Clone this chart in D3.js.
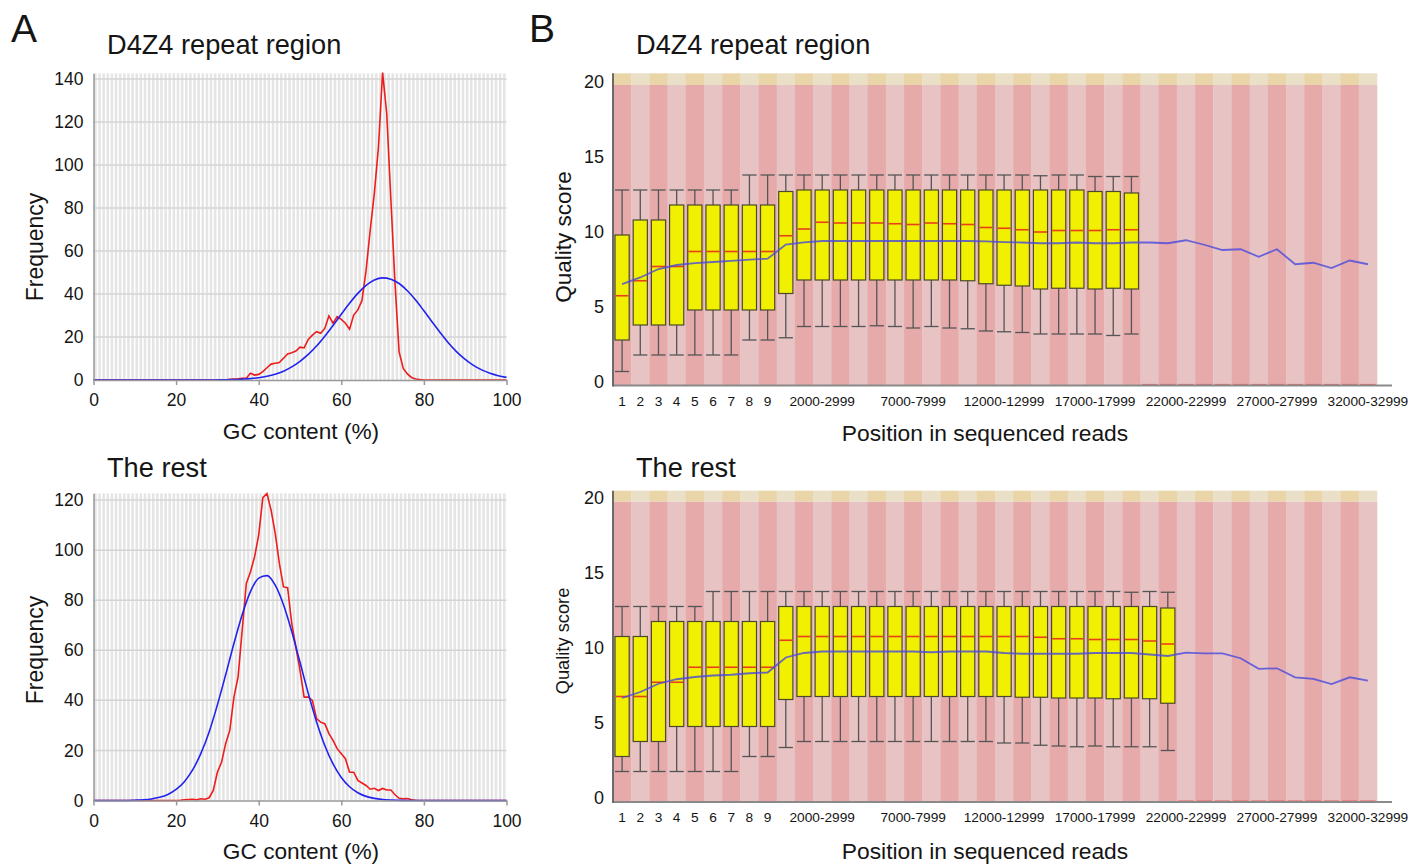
<!DOCTYPE html>
<html lang="en">
<head>
<meta charset="utf-8">
<title>GC content and per-position quality</title>
<script src="https://cdn.jsdelivr.net/npm/d3@7"></script>
<style>
  body { margin: 0; background: #fff; }
  svg text { font-family: "Liberation Sans", Arial, sans-serif; fill: #151515; }
</style>
</head>
<body>
<svg id="fig" width="1424" height="864"></svg>
<script>
// ---- data ----

// GC content per read, index = GC %
var redTop = [0,0,0,0,0,0,0,0,0,0, 0,0,0,0,0,0,0,0,0,0, 0,0,0,0,0,0,0,0,0,0, 0,0,0,
  0.3,0.5,0.6,0.8,0.8,3.1,2.3,2.6,3.9,5.7,7.4,7.8,8.1,10.1,12.1,12.7,13.5,15.3,15,
  18.9,20.9,22.5,21.7,24,29.8,26.4,29.5,28.2,26.4,23.6,30.2,32.6,36.9,51,69.8,86.8,
  108.5,143,124,84,45,13,5.4,2.8,1.2,0.5,0.2,
  0,0,0,0,0,0,0,0,0,0, 0,0,0,0,0,0,0,0,0,0, 0];
var redBottom = [0,0,0,0,0,0,0,0,0,0, 0,0,0,0,0,0,0,0,0,0, 0,
  0.1,0.3,0.4,0.5,0.3,0.7,0.5,1.1,4,11.3,15.3,22.7,28,41.3,49.3,68,86.7,91.3,97.3,
  106,121,122.6,116,106.7,94.7,85.3,85,70.7,61.3,52,41.3,41.3,40,32.7,31.3,30.7,26.7,
  24,20.7,18.7,16.7,11.3,11.3,8,7,6,4.5,4.9,4,4.8,4.2,4.2,2.3,0.9,0.7,0.8,0.3,0.1,
  0,0,0,0,0,0,0,0,0,0, 0,0,0,0,0,0,0,0,0,0, 0,0];

// theoretical distribution, read every 2 %
var blueGc = [0,2,4,6,8,10,12,14,16,18,20,22,24,26,28,30,32,34,36,38,40,42,44,46,48,50,
  52,54,56,58,60,62,64,66,68,70,72,74,76,78,80,82,84,86,88,90,92,94,96,98,100];
var blueTop = [0,0,0,0,0,0,0,0,0,0,0,0,0,0,0, 0.06,0.1,0.2,0.4,0.64,1.07,1.73,2.7,4.1,6.1,
  8.7,11.9,15.8,20.4,25.4,30.6,35.7,40.3,44,46.5,47.5,46.9,44.9,41.5,37.2,32.2,27,21.9,
  17.1,13,9.6,6.8,4.7,3.1,2.0,1.2];
var blueBottom = [0,0,0,0,0, 0.13,0.3,0.63,1.27,2.4,4.4,7.5,12.2,18.8,27.4,38.2,50.2,62.7,
  74.2,83.4,88.8,89.8,86,78.2,67.5,55.2,42.8,31.5,22,14.6,9.2,5.5,3.1,1.65,0.84,0.4,0.19,
  0.08, 0,0,0,0,0,0,0,0,0,0,0,0,0];

var gcTicks = [0, 20, 40, 60, 80, 100];
var freqTicksTop = [0, 20, 40, 60, 80, 100, 120, 140];
var freqTicksBottom = [0, 20, 40, 60, 80, 100, 120];

// positions in the reads
var positions = ["1","2","3","4","5","6","7","8","9","10-999","1000-1999","2000-2999",
  "3000-3999","4000-4999","5000-5999","6000-6999","7000-7999","8000-8999","9000-9999",
  "10000-10999","11000-11999","12000-12999","13000-13999","14000-14999","15000-15999",
  "16000-16999","17000-17999","18000-18999","19000-19999","20000-20999","21000-21999",
  "22000-22999","23000-23999","24000-24999","25000-25999","26000-26999","27000-27999",
  "28000-28999","29000-29999","30000-30999","31000-31999","32000-32999"];
var posTicks = ["1","2","3","4","5","6","7","8","9","2000-2999","7000-7999","12000-12999",
  "17000-17999","22000-22999","27000-27999","32000-32999"];
var qualTicks = [0, 5, 10, 15, 20];

// D4Z4 repeat region
var hiTop  = [13,13,13,13,13,13,13,14,14,14,14,14,14,14,14,14,14,14,14,14,14,14,14,13.95,14,14,13.9,13.9,13.9];
var q3Top  = [10,11,11,12,12,12,12,12,12,12.9,13,13,13,13,13,13,13,13,13,13,13,13,13,13,13,13,12.9,12.9,12.8];
var medTop = [5.95,6.95,7.9,7.9,8.9,8.9,8.9,8.9,8.9,9.95,10.4,10.85,10.8,10.8,10.8,10.75,10.7,10.8,10.75,10.7,10.5,10.45,10.35,10.2,10.3,10.3,10.3,10.35,10.35];
var q1Top  = [3,4,4,4,5,5,5,5,5,6.1,7,7,7,7,7,7,7,7,7,6.95,6.75,6.65,6.6,6.4,6.45,6.45,6.4,6.45,6.4];
var loTop  = [0.9,2,2,2,2,2,2,3,3,3.15,3.9,3.9,3.9,3.9,3.95,3.9,3.8,3.9,3.8,3.75,3.6,3.55,3.5,3.4,3.4,3.4,3.4,3.3,3.4];
var meanTop = [6.73,7.17,7.73,8.0,8.13,8.2,8.27,8.36,8.42,9.36,9.51,9.6,9.6,9.6,9.6,9.6,9.6,9.6,9.6,9.6,
  9.58,9.53,9.5,9.45,9.45,9.5,9.45,9.45,9.5,9.5,9.45,9.65,9.35,9.0,9.05,8.55,9.05,8.05,8.15,7.8,8.3,8.05];

// the rest
var hiBottom  = [13,13,13,13,13,14,14,14,14,14,14,14,14,14,14,14,14,14,14,14,14,14,14,14,14,14,14,14,13.95,14,13.95];
var q3Bottom  = [11,11,12,12,12,12,12,12,12,13,13,13,13,13,13,13,13,13,13,13,13,13,13,13,13,13,13,13,13,13,12.9];
var medBottom = [7,7,7.95,7.95,8.95,8.95,8.95,8.95,8.95,10.75,11,11,11,11,11,11,11,11,11,11,11,11,11,10.95,10.85,10.85,10.8,10.8,10.8,10.7,10.5];
var q1Bottom  = [3,4,4,5,5,5,5,5,5,6.8,7,7,7,7,7,7,7,7,7,7,7,7,6.95,6.95,6.9,6.9,6.9,6.85,6.9,6.85,6.55];
var loBottom  = [2,2,2,2,2,2,2,3,3,3.6,4,4,4,4,4,4,4,4,4,4,4,3.9,3.9,3.75,3.7,3.65,3.7,3.65,3.65,3.65,3.4];
var meanBottom = [6.9,7.3,7.85,8.15,8.3,8.4,8.45,8.55,8.6,9.6,9.9,10,10,10,10,10,10,9.95,10,10,10,9.9,
  9.85,9.85,9.85,9.85,9.9,9.9,9.9,9.8,9.7,9.92,9.88,9.88,9.55,8.84,8.88,8.28,8.17,7.83,8.28,8.06];

// ---- drawing ----
var svg = d3.select("#fig");

function gcPanel(opt) {
  var g = svg.append("g");
  var x = d3.scaleLinear().domain([0, 100]).range([93.5, 506.5]);
  var y = d3.scaleLinear().domain([0, opt.yMax]).range([opt.y0, opt.yTop]);
  var unit = x(1) - x(0);

  // vertical stripes, one per GC %
  g.selectAll(".stripe").data(d3.range(0, 100)).enter().append("rect")
    .attr("x", function(d) { return x(d) + unit * 0.15; })
    .attr("width", unit * 0.62)
    .attr("y", y(opt.yMax))
    .attr("height", y(0) - y(opt.yMax))
    .attr("fill", "#e5e5e5");

  // horizontal grid
  g.selectAll(".grid").data(opt.ticks.slice(1)).enter().append("line")
    .attr("x1", x(0)).attr("x2", x(100))
    .attr("y1", function(d) { return y(d); })
    .attr("y2", function(d) { return y(d); })
    .attr("stroke", "#d4d4d4").attr("stroke-width", 1.5);

  var redLine = d3.line()
    .x(function(d, i) { return x(i); })
    .y(function(d) { return y(d); });
  g.append("path").datum(opt.red)
    .attr("d", redLine).attr("fill", "none")
    .attr("stroke", "#ee1c1c").attr("stroke-width", 1.6);

  var blueLine = d3.line()
    .x(function(d, i) { return x(blueGc[i]); })
    .y(function(d) { return y(d); })
    .curve(d3.curveMonotoneX);
  g.append("path").datum(opt.blue)
    .attr("d", blueLine).attr("fill", "none")
    .attr("stroke", "#2222ee").attr("stroke-width", 1.6);

  var xAxis = g.append("g").attr("transform", "translate(0," + y(0) + ")")
    .call(d3.axisBottom(x).tickValues(gcTicks).tickSize(5).tickSizeOuter(0).tickPadding(9));
  xAxis.select(".domain").attr("stroke", "#999").attr("stroke-width", 1.5);
  xAxis.selectAll(".tick line").attr("stroke", "#999").attr("stroke-width", 1.5);
  xAxis.selectAll("text").attr("font-size", 17.5).attr("fill", "#151515");

  var yAxis = g.append("g").attr("transform", "translate(" + x(0) + ",0)")
    .call(d3.axisLeft(y).tickValues(opt.ticks).tickSize(0).tickPadding(10));
  yAxis.select(".domain").attr("stroke", "#999").attr("stroke-width", 1.5);
  yAxis.selectAll("text").attr("font-size", 17.5).attr("fill", "#151515");

  g.append("text").attr("x", 301).attr("y", opt.xTitleY)
    .attr("text-anchor", "middle").attr("font-size", 22.7).text("GC content (%)");
  g.append("text")
    .attr("transform", "translate(43," + opt.yTitleY + ") rotate(-90)")
    .attr("text-anchor", "middle").attr("font-size", 23).text("Frequency");
  g.append("text").attr("x", 107).attr("y", opt.titleY)
    .attr("font-size", 27.2).text(opt.title);
}

function qualityPanel(opt) {
  var g = svg.append("g");
  var x = d3.scaleBand().domain(positions).range([613, 1377]);
  var y = d3.scaleLinear().domain([0, opt.yMax]).range([opt.y0, opt.yTop]);
  var bw = x.bandwidth();
  var boxW = bw * 0.78;

  // red (<20) and orange (>20) column backgrounds
  g.selectAll(".bgRed").data(positions).enter().append("rect")
    .attr("x", function(d) { return x(d); })
    .attr("width", bw + 0.3)
    .attr("y", y(20)).attr("height", y(0) - y(20))
    .attr("fill", function(d, i) { return i % 2 === 0 ? "#e6aaab" : "#e7c3c3"; });
  g.selectAll(".bgOrange").data(positions).enter().append("rect")
    .attr("x", function(d) { return x(d); })
    .attr("width", bw + 0.3)
    .attr("y", y(opt.yMax)).attr("height", y(20) - y(opt.yMax))
    .attr("fill", function(d, i) { return i % 2 === 0 ? "#e9d5a8" : "#eadfc7"; });

  var boxes = opt.med.map(function(m, i) {
    return { pos: positions[i], hi: opt.hi[i], q3: opt.q3[i], med: m, q1: opt.q1[i], lo: opt.lo[i] };
  });
  var cx = function(d) { return x(d.pos) + bw / 2; };

  var b = g.selectAll(".box").data(boxes).enter().append("g");
  b.append("line")
    .attr("x1", cx).attr("x2", cx)
    .attr("y1", function(d) { return y(d.hi); })
    .attr("y2", function(d) { return y(d.lo); })
    .attr("stroke", "#555").attr("stroke-width", 1.3);
  b.append("line")
    .attr("x1", function(d) { return cx(d) - boxW / 2; })
    .attr("x2", function(d) { return cx(d) + boxW / 2; })
    .attr("y1", function(d) { return y(d.hi); })
    .attr("y2", function(d) { return y(d.hi); })
    .attr("stroke", "#555").attr("stroke-width", 1.3);
  b.append("line")
    .attr("x1", function(d) { return cx(d) - boxW / 2; })
    .attr("x2", function(d) { return cx(d) + boxW / 2; })
    .attr("y1", function(d) { return y(d.lo); })
    .attr("y2", function(d) { return y(d.lo); })
    .attr("stroke", "#555").attr("stroke-width", 1.3);
  b.append("rect")
    .attr("x", function(d) { return cx(d) - boxW / 2; })
    .attr("width", boxW)
    .attr("y", function(d) { return y(d.q3); })
    .attr("height", function(d) { return y(d.q1) - y(d.q3); })
    .attr("fill", "#f0f000").attr("stroke", "#4a4a2a").attr("stroke-width", 1.2);
  b.append("line")
    .attr("x1", function(d) { return cx(d) - boxW / 2 + 0.6; })
    .attr("x2", function(d) { return cx(d) + boxW / 2 - 0.6; })
    .attr("y1", function(d) { return y(d.med); })
    .attr("y2", function(d) { return y(d.med); })
    .attr("stroke", "#e8401a").attr("stroke-width", 1.6);

  // empty positions: median drawn at zero
  g.selectAll(".empty").data(positions.slice(boxes.length)).enter().append("line")
    .attr("x1", function(d) { return x(d) + 1.5; })
    .attr("x2", function(d) { return x(d) + bw - 1.5; })
    .attr("y1", y(0) - 0.5).attr("y2", y(0) - 0.5)
    .attr("stroke", "#e86a6a").attr("stroke-width", 1.2);

  // mean line
  var meanLine = d3.line()
    .x(function(d, i) { return x(positions[i]) + bw / 2; })
    .y(function(d) { return y(d); });
  g.append("path").datum(opt.mean)
    .attr("d", meanLine).attr("fill", "none")
    .attr("stroke", "#4848e0").attr("stroke-opacity", 0.8).attr("stroke-width", 1.8);

  // axes
  g.append("line").attr("x1", 613).attr("x2", 1392)
    .attr("y1", y(0) + 0.5).attr("y2", y(0) + 0.5)
    .attr("stroke", "#8a8a8a").attr("stroke-width", 2);
  g.append("line").attr("x1", 613).attr("x2", 613)
    .attr("y1", y(opt.yMax)).attr("y2", y(0) + 1.5)
    .attr("stroke", "#6a6a6a").attr("stroke-width", 2);

  var yAxis = g.append("g").attr("transform", "translate(613,0)")
    .call(d3.axisLeft(y).tickValues(qualTicks).tickSize(0).tickPadding(9));
  yAxis.select(".domain").remove();
  yAxis.selectAll("text").attr("font-size", 18).attr("fill", "#151515")
    .attr("transform", "translate(0,-3.5)");

  g.selectAll(".xlab").data(posTicks).enter().append("text")
    .attr("x", function(d) { return x(d) + bw / 2; })
    .attr("y", opt.y0 + 20.5)
    .attr("text-anchor", "middle").attr("font-size", 13.7)
    .text(function(d) { return d; });

  g.append("text").attr("x", 985).attr("y", opt.xTitleY)
    .attr("text-anchor", "middle").attr("font-size", 22.8).text("Position in sequenced reads");
  g.append("text")
    .attr("transform", "translate(" + opt.yTitleX + "," + opt.yTitleY + ") rotate(-90)")
    .attr("text-anchor", "middle").attr("font-size", opt.yTitleSize).text("Quality score");
  g.append("text").attr("x", 636).attr("y", opt.titleY)
    .attr("font-size", 27.2).text(opt.title);
}

gcPanel({ red: redTop, blue: blueTop, ticks: freqTicksTop, yMax: 142.7, y0: 380, yTop: 73.3,
  xTitleY: 439, yTitleY: 247, titleY: 53.5, title: "D4Z4 repeat region" });
gcPanel({ red: redBottom, blue: blueBottom, ticks: freqTicksBottom, yMax: 122.7, y0: 800.5, yTop: 493.3,
  xTitleY: 859, yTitleY: 650, titleY: 477, title: "The rest" });

qualityPanel({ hi: hiTop, q3: q3Top, med: medTop, q1: q1Top, lo: loTop, mean: meanTop,
  yMax: 20.78, y0: 385, yTop: 73.3, xTitleY: 441, yTitleX: 571, yTitleY: 237, yTitleSize: 22.5,
  titleY: 53.5, title: "D4Z4 repeat region" });
qualityPanel({ hi: hiBottom, q3: q3Bottom, med: medBottom, q1: q1Bottom, lo: loBottom, mean: meanBottom,
  yMax: 20.72, y0: 801.5, yTop: 490.7, xTitleY: 859, yTitleX: 569, yTitleY: 641, yTitleSize: 18.3,
  titleY: 477, title: "The rest" });

svg.append("text").attr("x", 11).attr("y", 42).attr("font-size", 39).text("A");
svg.append("text").attr("x", 529).attr("y", 42).attr("font-size", 39).text("B");
</script>
</body>
</html>
